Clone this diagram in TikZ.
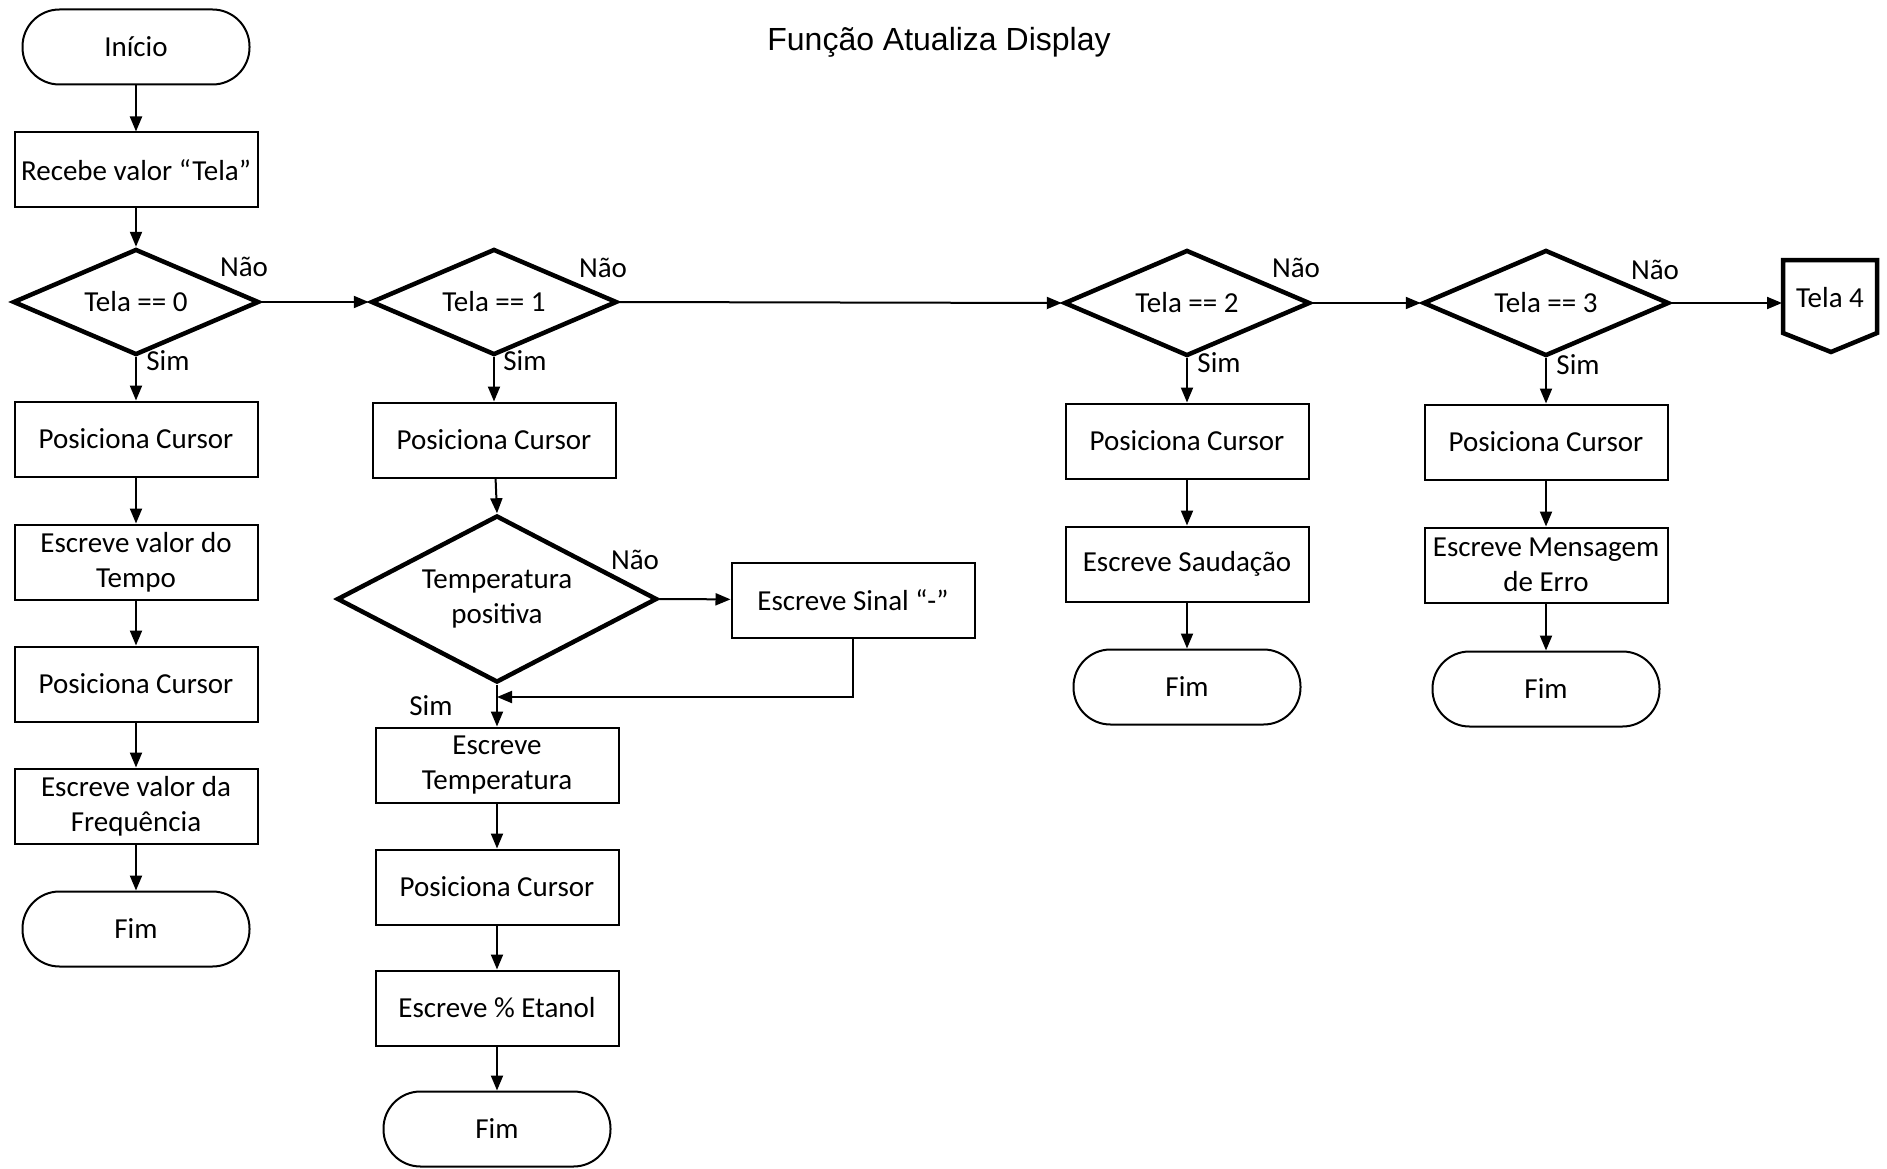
\documentclass[tikz,border=0pt]{standalone}
\usepackage{fontspec}
\setmainfont{Carlito}
\newfontfamily\titlefont{Liberation Sans}
\usetikzlibrary{shapes.geometric,arrows.meta}

\tikzset{
  base/.style={font=\fontsize{29}{35}\selectfont, align=center},
  proc/.style={base, draw, line width=2pt, minimum width=243pt, minimum height=75pt, inner sep=2pt},
  term/.style={base, draw, line width=2pt, rounded corners=37pt, minimum width=227pt, minimum height=75pt},
  dec/.style={diamond, draw, line width=4.5pt, inner sep=0pt, minimum width=246pt, minimum height=106pt,
              label={[base]center:#1}},
  bigdec/.style={diamond, draw, line width=4.5pt, inner sep=0pt, minimum width=320pt, minimum height=167pt,
              label={[base]center:#1}},
  lbl/.style={base},
  arr/.style={line width=2pt, -{Triangle[length=15pt,width=12pt]}},
}

\begin{document}
\begin{tikzpicture}[x=1pt, y=-1pt]
\useasboundingbox (0,0) rectangle (1887,1169);

% title
\node[font=\titlefont\fontsize{32}{38}\selectfont] (title) at (939,42) {Função Atualiza Display};

% column 1: Tela == 0
\node[term] (ini) at (136,47) {Início};
\node[proc] (rec) at (136,170) {Recebe valor “Tela”};
\node[dec={Tela == 0}] (d0) at (136,302) {};
\node[proc] (a1) at (136,439) {Posiciona Cursor};
\node[proc] (a2) at (136,562) {Escreve valor do\\Tempo};
\node[proc] (a3) at (136,684) {Posiciona Cursor};
\node[proc] (a4) at (136,806) {Escreve valor da\\Frequência};
\node[term] (f0) at (136,929) {Fim};

% column 2: Tela == 1
\node[dec={Tela == 1}] (d1) at (494,302) {};
\node[proc] (b1) at (494,440) {Posiciona Cursor};
\node[bigdec={Temperatura\\positiva}] (dt) at (497,599) {};
\node[proc] (sn) at (853,600) {Escreve Sinal “-”};
\node[proc] (b2) at (497,765) {Escreve\\Temperatura};
\node[proc] (b3) at (497,887) {Posiciona Cursor};
\node[proc] (b4) at (497,1008) {Escreve \% Etanol};
\node[term] (f1) at (497,1129) {Fim};
\coordinate (mg) at (497,697);

% column 3: Tela == 2
\node[dec={Tela == 2}] (d2) at (1187,303) {};
\node[proc] (c1) at (1187,441) {Posiciona Cursor};
\node[proc] (c2) at (1187,564) {Escreve Saudação};
\node[term] (f2) at (1187,687) {Fim};

% column 4: Tela == 3
\node[dec={Tela == 3}] (d3) at (1546,303) {};
\node[proc] (e1) at (1546,442) {Posiciona Cursor};
\node[proc] (e2) at (1546,565) {Escreve Mensagem\\de Erro};
\node[term] (f3) at (1546,689) {Fim};

% off-page connector "Tela 4"
\node[base] (t4) at (1830,298) {Tela 4};
\draw[line width=4.5pt, line join=miter]
  (1783,260) -- (1877,260) -- (1877,333) -- (1831,352) -- (1783,333) -- cycle;
\coordinate (t4w) at (1782,303);

% connectors
\draw[arr] (ini) -- (rec);
\draw[arr] (rec) -- (d0.north);
\draw[arr] (d0.south) -- (a1);
\draw[arr] (a1) -- (a2);
\draw[arr] (a2) -- (a3);
\draw[arr] (a3) -- (a4);
\draw[arr] (a4) -- (f0);

\draw[arr] (d0.east) -- (d1.west);
\draw[arr] (d1.south) -- (b1);
\draw[arr] (b1) -- (dt.north);
\draw[arr] (dt.east) -- (sn);
\draw[arr] (dt.south) -- (b2);
\draw[arr] (sn.south) |- (mg);
\draw[arr] (b2) -- (b3);
\draw[arr] (b3) -- (b4);
\draw[arr] (b4) -- (f1);

\draw[arr] (d1.east) -- (d2.west);
\draw[arr] (d2.south) -- (c1);
\draw[arr] (c1) -- (c2);
\draw[arr] (c2) -- (f2);

\draw[arr] (d2.east) -- (d3.west);
\draw[arr] (d3.south) -- (e1);
\draw[arr] (e1) -- (e2);
\draw[arr] (e2) -- (f3);
\draw[arr] (d3.east) -- (t4w);

% branch labels
\node[lbl] (n0) at (244,267) {Não};
\node[lbl] (s0) at (168,361) {Sim};
\node[lbl] (n1) at (603,268) {Não};
\node[lbl] (s1) at (525,361) {Sim};
\node[lbl] (n2) at (1296,268) {Não};
\node[lbl] (s2) at (1219,363) {Sim};
\node[lbl] (n3) at (1655,270) {Não};
\node[lbl] (s3) at (1578,365) {Sim};
\node[lbl] (nt) at (635,560) {Não};
\node[lbl] (st) at (431,706) {Sim};
\end{tikzpicture}
\end{document}
